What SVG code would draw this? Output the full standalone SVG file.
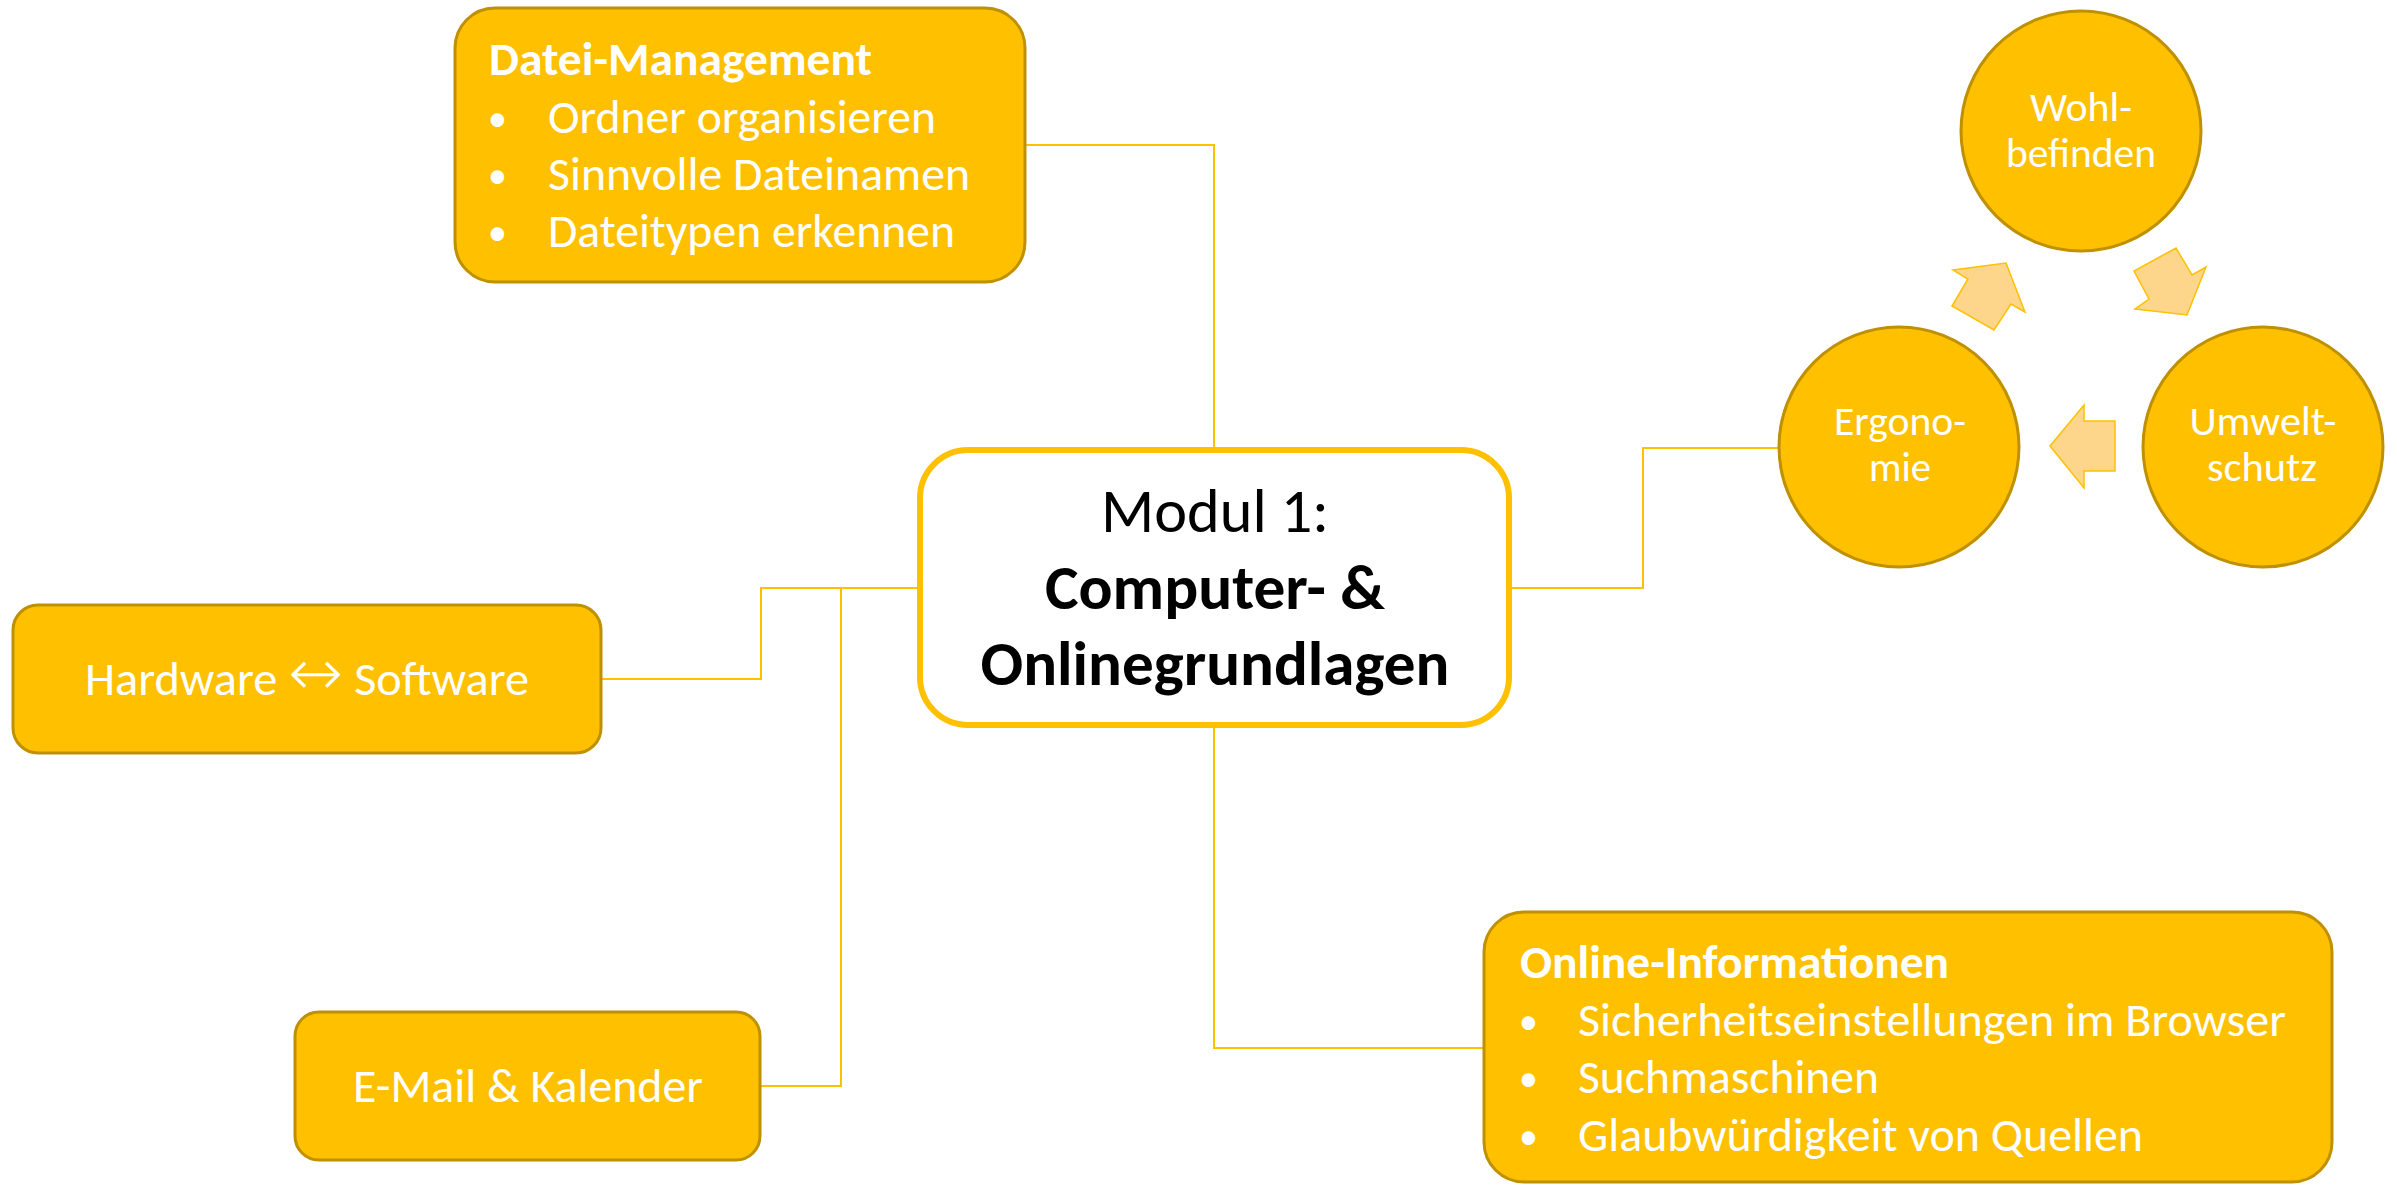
<svg xmlns="http://www.w3.org/2000/svg" width="2397" height="1186" viewBox="0 0 2397 1186">
<style>
.box{fill:#FFC000;stroke:#BF9000;stroke-width:3}
.circ{fill:#FFC000;stroke:#BF9000;stroke-width:3}
.core{fill:#FFFFFF;stroke:#FFC000;stroke-width:6}
.con{fill:none;stroke:#FFC000;stroke-width:2}
.arr{fill:#FDD68C;stroke:#FFC000;stroke-width:1.5;stroke-linejoin:miter}
text{font-family:Carlito,Calibri,Lato,"Open Sans",sans-serif}
.w{fill:#FFFFFF;font-size:47px}
.b{fill:#FFFFFF;font-size:38px}
.wb{fill:#FFFFFF;font-size:47px;font-weight:bold}
.c{fill:#FFFFFF;font-size:42px;text-anchor:middle}
.k{fill:#000000;font-size:61px;text-anchor:middle}
.kb{fill:#000000;font-size:63px;font-weight:bold;text-anchor:middle}
.sym{font-family:"DejaVu Sans",sans-serif;font-size:64px;font-weight:200}
</style>
<g id="connectors">
<polyline class="con" points="1026,145 1214,145 1214,450"/>
<polyline class="con" points="1214,728 1214,1048 1484,1048"/>
<polyline class="con" points="1512,588 1643,588 1643,448 1778,448"/>
<polyline class="con" points="602,679 761,679 761,588 918,588"/>
<polyline class="con" points="761,1086 841,1086 841,588"/>
</g>
<g id="node-center">
<rect class="core" x="920" y="450" width="589" height="275" rx="48"/>
<text class="k" x="1215" y="532" textLength="228" lengthAdjust="spacingAndGlyphs">Modul 1:</text>
<text class="kb" x="1215" y="609" textLength="340" lengthAdjust="spacingAndGlyphs">Computer- &amp;</text>
<text class="kb" x="1215" y="685" textLength="469" lengthAdjust="spacingAndGlyphs">Onlinegrundlagen</text>
</g>
<g id="node-datei">
<rect class="box" x="455" y="8" width="570" height="274" rx="40"/>
<text class="wb" x="489" y="75" textLength="383" lengthAdjust="spacingAndGlyphs">Datei-Management</text>
<text class="b" x="488" y="131">•</text>
<text class="w" x="548" y="133" textLength="388" lengthAdjust="spacingAndGlyphs">Ordner organisieren</text>
<text class="b" x="488" y="188">•</text>
<text class="w" x="548" y="190" textLength="422" lengthAdjust="spacingAndGlyphs">Sinnvolle Dateinamen</text>
<text class="b" x="488" y="245">•</text>
<text class="w" x="548" y="247" textLength="407" lengthAdjust="spacingAndGlyphs">Dateitypen erkennen</text>
</g>
<g id="node-hardware">
<rect class="box" x="13" y="605" width="588" height="148" rx="25"/>
<text class="w" x="307" y="695" text-anchor="middle" textLength="444" lengthAdjust="spacingAndGlyphs">Hardware <tspan class="sym">↔</tspan> Software</text>
</g>
<g id="node-email">
<rect class="box" x="295" y="1012" width="465" height="148" rx="24"/>
<text class="w" x="528" y="1102" text-anchor="middle" textLength="350" lengthAdjust="spacingAndGlyphs">E-Mail &amp; Kalender</text>
</g>
<g id="node-online">
<rect class="box" x="1484" y="912" width="848" height="270" rx="40"/>
<text class="wb" x="1520" y="978" textLength="429" lengthAdjust="spacingAndGlyphs">Online-Informationen</text>
<text class="b" x="1519" y="1034">•</text>
<text class="w" x="1578" y="1036" textLength="708" lengthAdjust="spacingAndGlyphs">Sicherheitseinstellungen im Browser</text>
<text class="b" x="1519" y="1091">•</text>
<text class="w" x="1578" y="1093" textLength="301" lengthAdjust="spacingAndGlyphs">Suchmaschinen</text>
<text class="b" x="1519" y="1149">•</text>
<text class="w" x="1578" y="1151" textLength="565" lengthAdjust="spacingAndGlyphs">Glaubwürdigkeit von Quellen</text>
</g>
<g id="node-wohlbefinden">
<circle class="circ" cx="2081" cy="131" r="120"/>
<text class="c" x="2081" y="121" textLength="102" lengthAdjust="spacingAndGlyphs">Wohl-</text>
<text class="c" x="2081" y="167" textLength="150" lengthAdjust="spacingAndGlyphs">befinden</text>
</g>
<g id="node-ergonomie">
<circle class="circ" cx="1899" cy="447" r="120"/>
<text class="c" x="1900" y="435" textLength="132" lengthAdjust="spacingAndGlyphs">Ergono-</text>
<text class="c" x="1900" y="481" textLength="62" lengthAdjust="spacingAndGlyphs">mie</text>
</g>
<g id="node-umweltschutz">
<circle class="circ" cx="2263" cy="447" r="120"/>
<text class="c" x="2263" y="435" textLength="147" lengthAdjust="spacingAndGlyphs">Umwelt-</text>
<text class="c" x="2262" y="481" textLength="110" lengthAdjust="spacingAndGlyphs">schutz</text>
</g>
<g id="cycle-arrows">
<polygon class="arr" points="2006,263 2025,312 2011,304 1994,330 1952,306 1968,279 1953,270"/>
<polygon class="arr" points="2176,248 2192,275 2206,267 2187,315 2135,309 2149,299 2134,271"/>
<polygon class="arr" points="2050,446 2084,405 2084,421 2115,421 2115,471 2084,471 2084,488"/>
</g>
</svg>
